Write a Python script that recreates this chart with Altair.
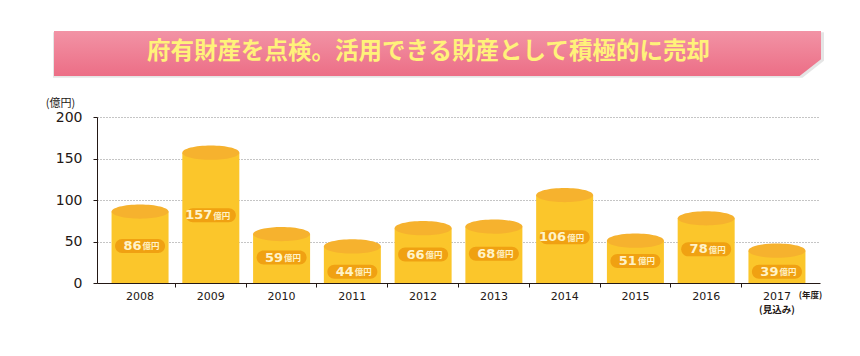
import altair as alt
import pandas as pd

# ---- data ----
years = ["2008", "2009", "2010", "2011", "2012", "2013", "2014", "2015", "2016", "2017"]
values = [86, 157, 59, 44, 66, 68, 106, 51, 78, 39]
unit_label = "億円"
title_text = "府有財産を点検。活用できる財産として積極的に売却"
y_ticks = [0, 50, 100, 150, 200]
y_title = "(億円)"
x_title = "(年度)"
note_year = "2017"
note_text = "(見込み)"

df = pd.DataFrame({"year": years, "value": values, "unit": [unit_label] * len(years)})

W, H = 723, 166

x_enc = alt.X(
    "year:N",
    sort=years,
    scale=alt.Scale(paddingInner=0, paddingOuter=0.1085),
    axis=alt.Axis(
        title=x_title,
        titleFont="Noto Sans CJK JP",
        titleFontSize=8.5,
        titleFontWeight="bold",
        titleColor="#231815",
        titleAnchor="end",
        titleAlign="center",
        titleBaseline="middle",
        titleX=713,
        titleY=11,
        labelAngle=0,
        labelFont="DejaVu Sans",
        labelFontSize=11,
        labelColor="#231815",
        labelPadding=3,
        bandPosition=0,
        domainColor="#231815",
        domainWidth=1,
        tickColor="#231815",
        tickSize=4,
        tickOpacity={"condition": {"test": "datum.value === '2008'", "value": 0}, "value": 1},
        grid=False,
    ),
)

y_scale = alt.Scale(domain=[0, 200], nice=False, zero=True)
y_axis = alt.Axis(
    values=y_ticks,
    title=y_title,
    titleFont="Noto Sans CJK JP",
    titleFontSize=11,
    titleFontWeight="normal",
    titleColor="#231815",
    titleAngle=0,
    titleAlign="center",
    titleBaseline="middle",
    titleX=-37,
    titleY=-14,
    labelFont="DejaVu Sans",
    labelFontSize=14,
    labelColor="#231815",
    labelPadding=11,
    domainColor="#231815",
    domainWidth=1,
    tickColor="#231815",
    tickSize=4,
    grid=True,
    gridColor="#8a8a8a",
    gridDash=[1, 2],
    gridWidth=1,
)

base = alt.Chart(df)

bars = base.mark_bar(size=57, color="#FBC62B").encode(
    x=x_enc,
    y=alt.Y("value:Q", scale=y_scale, axis=y_axis),
)

ellipse_path = "M-1,0A1,0.25 0 1,0 1,0A1,0.25 0 1,0 -1,0Z"
tops = base.mark_point(
    shape=ellipse_path, size=57 * 57, filled=True, opacity=1, color="#F6B22E", strokeWidth=0
).encode(x=alt.X("year:N", sort=years), y=alt.Y("value:Q"))

lbl = base.transform_calculate(ly="datum.value < 45 ? 13.5 : datum.value * 0.52")

pill_path = "M-0.72,-0.28L0.72,-0.28A0.28,0.28 0 0,1 0.72,0.28L-0.72,0.28A0.28,0.28 0 0,1 -0.72,-0.28Z"
pills = lbl.mark_point(
    shape=pill_path, size=50 * 50, filled=True, opacity=1, color="#F0A112", strokeWidth=0
).encode(x=alt.X("year:N", sort=years), y=alt.Y("ly:Q"))

nums = lbl.mark_text(
    align="right", baseline="middle", dx=1.5, font="DejaVu Sans", fontSize=13,
    fontWeight="bold", color="#FFF3C8"
).encode(x=alt.X("year:N", sort=years), y=alt.Y("ly:Q"), text="value:Q")

units = lbl.mark_text(
    align="left", baseline="middle", dx=2.5, dy=0.5, font="Noto Sans CJK JP", fontSize=8.5,
    fontWeight="bold", color="#FFF3C8"
).encode(x=alt.X("year:N", sort=years), y=alt.Y("ly:Q"), text="unit:N")

note = alt.Chart(pd.DataFrame({"year": [note_year], "t": [note_text]})).mark_text(
    align="center", baseline="middle", font="Noto Sans CJK JP", fontSize=9.5,
    fontWeight="bold", color="#231815"
).encode(x=alt.X("year:N", sort=years), y=alt.value(H + 27), text="t:N")

# ---- banner ----
banner_df = pd.DataFrame({"t": [title_text]})
banner_path = "M-1,-0.0587L1,-0.0587L1,0.0151L0.9442,0.0587L-1,0.0587Z"
shadow = alt.Chart(banner_df).mark_point(
    shape=banner_path, size=771 * 771, filled=True, opacity=0.10, color="#000000", strokeWidth=0
).encode(x=alt.value(341.5), y=alt.value(-62.0))
banner = alt.Chart(banner_df).mark_point(
    shape=banner_path, size=767 * 767, filled=True, opacity=1, strokeWidth=0,
    color=alt.Gradient(
        gradient="linear", x1=0, y1=0, x2=0, y2=1,
        stops=[alt.GradientStop(color="#F293A5", offset=0),
               alt.GradientStop(color="#EC6E86", offset=1)],
    ),
).encode(x=alt.value(340.5), y=alt.value(-63.5))
banner_text = alt.Chart(banner_df).mark_text(
    align="center", baseline="middle", font="Noto Sans CJK JP", fontSize=23.5,
    fontWeight="bold", color="#FFF27A"
).encode(x=alt.value(331.5), y=alt.value(-65.5), text="t:N")

chart = alt.layer(
    bars, tops, pills, nums, units, note, shadow, banner, banner_text
).properties(
    width=W, height=H,
    autosize=alt.AutoSizeParams(type="none"),
    padding={"left": 97, "top": 117, "right": 40, "bottom": 73},
    background="white",
).configure_view(stroke=None)

chart.save("out.html", embed_options={"renderer": "svg", "actions": False})
